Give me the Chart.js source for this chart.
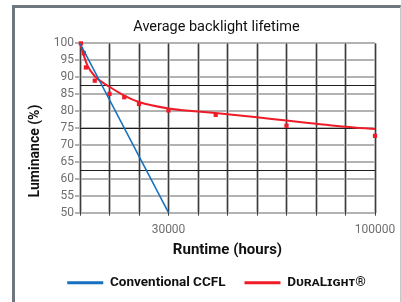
<!DOCTYPE html>
<html>
<head>
<meta charset="utf-8">
<script src="https://cdn.jsdelivr.net/npm/chart.js@4/dist/chart.umd.min.js"></script>
<style>
  html, body { margin: 0; padding: 0; background: #fff; }
  body { width: 401px; height: 302px; position: relative; overflow: hidden; }
  .frame { position: absolute; left: 12px; top: 5px; width: 385px; height: 320px;
           border-left: 3px solid #6f777e; border-top: 3px solid #6f777e; border-right: 1px solid #c8c8c8; }
  #chart { position: absolute; left: 0; top: 0; }
</style>
</head>
<body>
<div class="frame"></div>
<canvas id="chart" width="401" height="302"></canvas>
<script>
// CCFL drops linearly to half brightness at 30000 h
let ccflHours = [0, 30000];
let ccflLum = [100, 50];

// fitted DuraLight curve
let curveHours = [0, 2500, 5000, 10000, 15000, 20000, 30000, 40000, 50000, 60000, 70000, 80000, 90000, 100000];
let curveLum = [100, 93.5, 90.3, 87.2, 84.6, 82.7, 80.8, 79.9, 79.1, 78.2, 77.2, 76.3, 75.4, 74.7];

// measured DuraLight samples
let measHours = [300, 1300, 2000, 5000, 10000, 15000, 20000, 30000, 46000, 70000, 100000];
let measLum = [100, 97.1, 92.9, 89, 85.1, 84.1, 82.1, 80.2, 78.9, 75.7, 72.7];

let xLabels = [30000, 100000];
let fam = "Roboto, 'Liberation Sans', sans-serif";

function pts(xs, ys) {
    let out = [];
    for (var i = 0; i < xs.length; i++) out.push({ x: xs[i], y: ys[i] });
    return out;
}

// y title sits centred on the whole picture, not on the axis
const yTitle = {
    id: 'yTitle',
    afterDraw(chart) {
        const c = chart.ctx;
        c.save();
        c.translate(35, 151);
        c.rotate(-Math.PI / 2);
        c.font = "bold 14px " + fam;
        c.fillStyle = '#111';
        c.textAlign = 'center';
        c.textBaseline = 'middle';
        c.fillText('Luminance (%)', 0, 0);
        c.restore();
    }
};

let myChart = new Chart("chart", {
    type: "line",
    data: {
        datasets: [{
            label: 'Conventional CCFL',
            data: pts(ccflHours, ccflLum),
            borderColor: '#1570c0',
            backgroundColor: '#1570c0',
            borderWidth: 1.5,
            pointRadius: 0
        }, {
            label: 'D\u1D1C\u0280\u1D00L\u026A\u0262\u029C\u1D1B\u00AE',
            data: pts(curveHours, curveLum),
            borderColor: '#ef1c27',
            backgroundColor: '#ef1c27',
            borderWidth: 2,
            pointRadius: 0,
            cubicInterpolationMode: 'monotone'
        }, {
            label: 'measured',
            data: pts(measHours, measLum),
            showLine: false,
            pointStyle: 'rect',
            pointRadius: 3,
            borderWidth: 0,
            backgroundColor: '#ef1c27',
            borderColor: '#ef1c27',
            clip: false
        }]
    },
    options: {
        responsive: false,
        animation: false,
        layout: { padding: { left: 45, right: 13, top: 0, bottom: 3 } },
        plugins: {
            title: {
                display: true,
                text: 'Average backlight lifetime',
                color: '#111',
                font: { family: fam, size: 14.5, weight: 'normal' },
                padding: { top: 19, bottom: 7 }
            },
            legend: {
                position: 'bottom',
                align: 'center',
                maxHeight: 42,
                labels: {
                    boxWidth: 36,
                    boxHeight: 3,
                    padding: 19,
                    color: '#111',
                    font: { family: fam, size: 13.5, weight: 'bold' },
                    generateLabels(chart) {
                        return Chart.defaults.plugins.legend.labels.generateLabels(chart)
                            .filter(l => l.datasetIndex < 2)
                            .map(l => Object.assign(l, { lineWidth: 0, fillStyle: l.strokeStyle }));
                    }
                }
            },
            tooltip: { enabled: false }
        },
        scales: {
            x: {
                type: 'linear', min: 0, max: 100000,
                border: { display: false },
                grid: { color: '#3c3c3c', lineWidth: 1, tickLength: 3, z: -1 },
                ticks: {
                    stepSize: 10000, autoSkip: false, maxRotation: 0, padding: 7,
                    color: '#6d6e70', font: { family: fam, size: 12 },
                    callback: v => xLabels.includes(v) ? String(v) : ''
                },
                title: {
                    display: true, text: 'Runtime (hours)', color: '#111',
                    font: { family: fam, size: 15, weight: 'bold', lineHeight: 0.8 },
                    padding: { top: 6, bottom: 1 }
                },
                afterFit(s) { s.height = 44.3; s.paddingRight = 26; }
            },
            x2: {
                type: 'linear', min: 0, max: 100000, position: 'bottom',
                border: { display: false },
                grid: { color: '#bdbdbd', lineWidth: 3, drawTicks: false, z: -2 },
                ticks: { stepSize: 10000, display: false },
                afterFit(s) { s.height = 0; }
            },
            y: {
                type: 'linear', min: 50, max: 100,
                border: { display: false },
                grid: { color: '#b2b2b2', lineWidth: 2, tickLength: 5, z: -2 },
                ticks: { stepSize: 5, autoSkip: false, padding: 1, color: '#6d6e70', font: { family: fam, size: 12 } },
                afterFit(s) { s.width = 35; }
            },
            y2: {
                type: 'linear', min: 50, max: 100, position: 'left',
                border: { display: false },
                grid: {
                    drawTicks: false, lineWidth: 1, z: -1,
                    color: c => [62.5, 75, 87.5].includes(c.tick.value) ? '#1e1e1e' : 'rgba(0,0,0,0)'
                },
                ticks: { stepSize: 12.5, display: false },
                afterFit(s) { s.width = 0; }
            }
        }
    },
    plugins: [yTitle]
});
</script>
</body>
</html>
